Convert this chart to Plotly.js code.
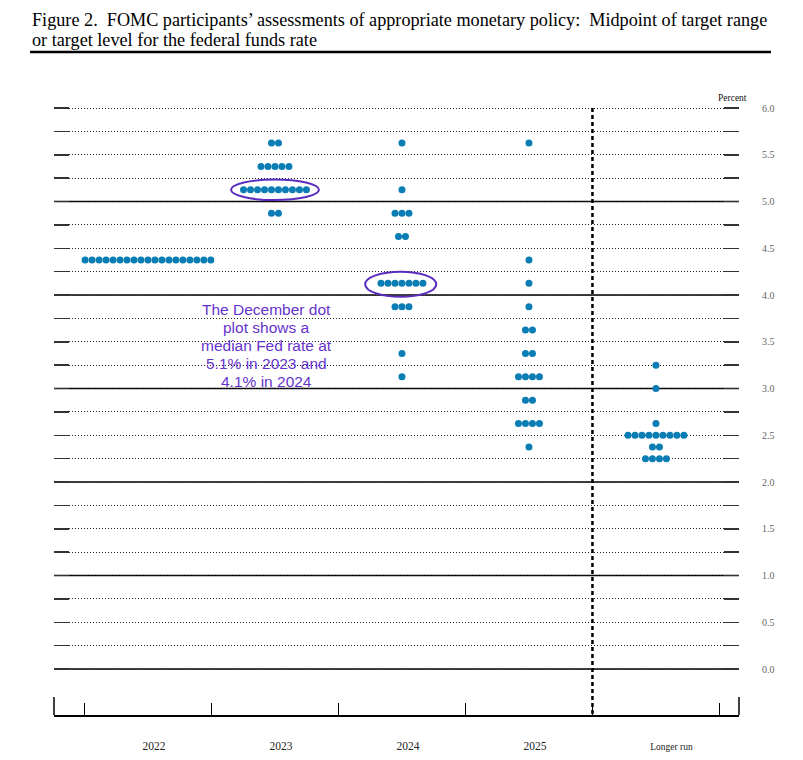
<!DOCTYPE html>
<html>
<head>
<meta charset="utf-8">
<script src="https://cdn.plot.ly/plotly-3.0.1.min.js"></script>
<style>html,body{margin:0;padding:0;background:#fff;}</style>
</head>
<body>
<div id="chart" style="width:803px;height:760px;"></div>
<script>
// ---- Data (midpoint of target range, percent; number of participants) ----
const categories = ['2022', '2023', '2024', '2025', 'Longer run'];

const rates2022 = [4.375];
const counts2022 = [19];

const rates2023 = [5.625, 5.375, 5.125, 4.875];
const counts2023 = [2, 5, 10, 2];

const rates2024 = [5.625, 5.125, 4.875, 4.625, 4.125, 3.875, 3.375, 3.125];
const counts2024 = [1, 1, 3, 2, 7, 3, 1, 1];

const rates2025 = [5.625, 4.375, 4.125, 3.875, 3.625, 3.375, 3.125, 2.875, 2.625, 2.375];
const counts2025 = [1, 1, 1, 1, 2, 2, 4, 2, 4, 1];

const ratesLonger = [3.25, 3.0, 2.625, 2.5, 2.375, 2.25];
const countsLonger = [1, 1, 1, 9, 2, 4];

const yTickVals = [0, 0.25, 0.5, 0.75, 1, 1.25, 1.5, 1.75, 2, 2.25, 2.5, 2.75, 3,
  3.25, 3.5, 3.75, 4, 4.25, 4.5, 4.75, 5, 5.25, 5.5, 5.75, 6];
const yTickText = ['0.0', '', '0.5', '', '1.0', '', '1.5', '', '2.0', '', '2.5', '', '3.0',
  '', '3.5', '', '4.0', '', '4.5', '', '5.0', '', '5.5', '', '6.0'];
const solidLevels = [0, 1, 2, 3, 4, 5];

const titleLines = [
  'Figure 2.\u00a0 FOMC participants\u2019 assessments of appropriate monetary policy:\u00a0 Midpoint of target range',
  'or target level for the federal funds rate'
];
const annotationLines = ['The December dot', 'plot shows a', 'median Fed rate at',
  '5.1% in 2023 and', '4.1% in 2024'];

// ---- Build dot positions ----
const DOT_STEP = 0.055; // horizontal spacing between stacked participants (axis units)
const columns = [
  [rates2022, counts2022], [rates2023, counts2023], [rates2024, counts2024],
  [rates2025, counts2025], [ratesLonger, countsLonger]
];
const dotX = [], dotY = [];
columns.forEach(([rates, counts], ci) => {
  rates.forEach((r, ri) => {
    const n = counts[ri];
    for (let k = 0; k < n; k++) {
      dotX.push(ci + (k - (n - 1) / 2) * DOT_STEP);
      dotY.push(r);
    }
  });
});

const trace = {
  type: 'scatter', mode: 'markers', x: dotX, y: dotY,
  marker: { color: '#0b7db5', size: 7, line: { width: 0 } },
  hoverinfo: 'skip', showlegend: false, cliponaxis: false
};

const Y_MIN = -0.492, Y_MAX = 6.107;
const X_MIN = -0.74, X_MAX = 4.654;

const shapes = [];
solidLevels.forEach(v => shapes.push({
  type: 'line', xref: 'paper', yref: 'y', x0: 0, x1: 1, y0: v, y1: v,
  line: { color: '#000', width: 1.3 }, layer: 'below'
}));
// dashed separator before "Longer run"
shapes.push({
  type: 'line', xref: 'x', yref: 'y', x0: 3.5, x1: 3.5, y0: 6, y1: Y_MIN,
  line: { color: '#000', width: 2.5, dash: '4px,3px' }
});
// edge ticks on the x axis
[0, 1].forEach(px => shapes.push({
  type: 'line', xref: 'paper', yref: 'paper', ysizemode: 'pixel', yanchor: 0,
  x0: px, x1: px, y0: 0, y1: 18, line: { color: '#000', width: 1.5 }
}));
// ellipses around medians
shapes.push({
  type: 'circle', xref: 'x', yref: 'y', x0: 1 - 0.346, x1: 1 + 0.346,
  y0: 5.125 - 0.11, y1: 5.125 + 0.11, line: { color: '#5a2dbf', width: 2 }
});
shapes.push({
  type: 'circle', xref: 'x', yref: 'y', x0: 2 - 0.29, x1: 2 + 0.27,
  y0: 4.115 - 0.135, y1: 4.115 + 0.135, line: { color: '#5a2dbf', width: 2 }
});
// rule under title
shapes.push({
  type: 'line', xref: 'paper', yref: 'paper', x0: -0.035, x1: 1.0467,
  y0: 1.0746, y1: 1.0746, line: { color: '#000', width: 2.5 }
});

const annotations = [{
  xref: 'paper', yref: 'paper', x: 0.991, y: 1.0, xanchor: 'center', yanchor: 'middle',
  text: 'Percent', showarrow: false,
  font: { family: 'Liberation Serif, serif', size: 9.5, color: '#111' }
}];
titleLines.forEach((t, i) => annotations.push({
  xref: 'paper', yref: 'paper', x: -0.035, y: 1.1264 - i * 0.0324,
  xanchor: 'left', yanchor: 'middle', align: 'left', text: t, showarrow: false,
  font: { family: 'Liberation Serif, serif', size: 18.2, color: '#000' }
}));
annotationLines.forEach((t, i) => annotations.push({
  xref: 'x', yref: 'y', x: 0.937, y: 3.455, yshift: 36 - 18 * i,
  xanchor: 'center', yanchor: 'middle', text: t, showarrow: false,
  font: { family: 'Liberation Sans, Arial, sans-serif', size: 15.5, color: '#6633cc' }
}));

const xTickText = categories.map(c => c === 'Longer run'
  ? '<span style="font-size:9.5px">\u00a0\u00a0\u00a0\u00a0\u00a0\u00a0\u00a0\u00a0Longer run</span>' : c);

const layout = {
  width: 803, height: 760,
  margin: { l: 54, r: 64, t: 98, b: 45 },
  paper_bgcolor: '#fff', plot_bgcolor: '#fff',
  xaxis: {
    range: [X_MIN, X_MAX], showgrid: false, zeroline: false,
    showline: true, linecolor: '#000', linewidth: 1.5,
    tickmode: 'array', tickvals: [0, 1, 2, 3, 4], ticktext: xTickText,
    ticks: '', ticklabelstandoff: 20, ticklabelshift: 6,
    tickfont: { family: 'Liberation Serif, serif', size: 11.5, color: '#222' },
    minor: { tick0: -0.5, dtick: 1, ticks: 'inside', ticklen: 12, tickwidth: 1.3, tickcolor: '#000', showgrid: false },
    fixedrange: true
  },
  yaxis: {
    range: [Y_MIN, Y_MAX], side: 'right', zeroline: false,
    tickmode: 'array', tickvals: yTickVals, ticktext: yTickText,
    showgrid: true, griddash: '1px,2px', gridcolor: '#222', gridwidth: 1,
    ticks: 'inside', ticklen: 15, tickwidth: 1.5, tickcolor: '#333',
    mirror: 'ticks', showline: false, ticklabelstandoff: 22,
    tickfont: { family: 'Liberation Serif, serif', size: 10, color: '#666' },
    fixedrange: true
  },
  shapes: shapes,
  annotations: annotations,
  showlegend: false
};

Plotly.newPlot('chart', [trace], layout, { staticPlot: true, displayModeBar: false });
</script>
</body>
</html>
